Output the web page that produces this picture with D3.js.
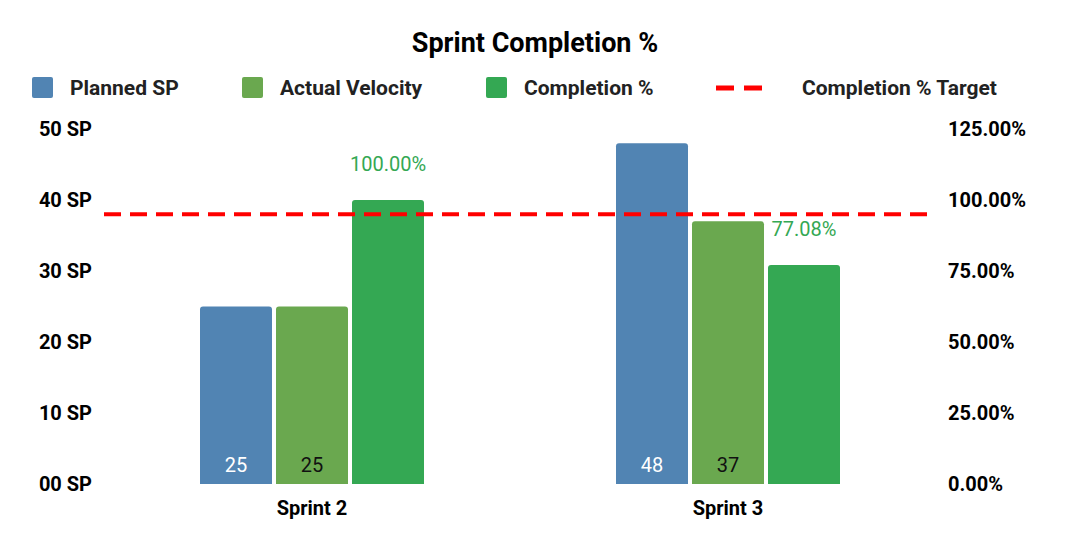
<!DOCTYPE html>
<html><head><meta charset="utf-8">
<script src="https://cdn.jsdelivr.net/npm/d3@7"></script>
<style>body{margin:0;background:#fff;font-family:Roboto,Arial,sans-serif}</style>
</head><body><svg id="c" width="1070" height="548"></svg>
<script>
const categories = ["Sprint 2", "Sprint 3"];
const plannedSP = [25, 48];
const actualVelocity = [25, 37];
const completionPct = [100.00, 77.08];
const targetPct = 95;
const leftTicks = [0, 10, 20, 30, 40, 50];
const rightTicks = [0, 25, 50, 75, 100, 125];
const seriesNames = ["Planned SP", "Actual Velocity", "Completion %", "Completion % Target"];
const colors = ["#5184b3", "#6aa84f", "#34a853", "#ff0000"];

const svg = d3.select("#c");
const L = 104, R = 936, T = 129, B = 484;
const x = d3.scaleBand().domain(categories).range([L, R]);
const yL = d3.scaleLinear().domain([0, 50]).range([B, T]);
const yR = d3.scaleLinear().domain([0, 125]).range([B, T]);
const bw = 72, gap = 4;

svg.append("text").attr("x", 535).attr("y", 52).attr("text-anchor", "middle")
  .attr("font-size", 27).attr("font-weight", "bold").text("Sprint Completion %");

// legend
const lg = [[32, 0], [242, 1], [486, 2], [716, 3]];
lg.forEach(([lx, i]) => {
  if (i < 3) svg.append("rect").attr("x", lx).attr("y", 77).attr("width", 21).attr("height", 21).attr("rx", 2).attr("fill", colors[i]);
  else svg.append("line").attr("x1", lx).attr("x2", lx + 52).attr("y1", 88).attr("y2", 88).attr("stroke", colors[3]).attr("stroke-width", 5).attr("stroke-dasharray", "18,10");
  svg.append("text").attr("x", lx + (i < 3 ? 38 : 86)).attr("y", 95).attr("font-size", 21).attr("font-weight", "bold").attr("fill", "#222").text(seriesNames[i]);
});

// axes
svg.selectAll(".lt").data(leftTicks).enter().append("text")
  .attr("x", 92).attr("y", d => yL(d) + 7).attr("text-anchor", "end")
  .attr("font-size", 20).attr("font-weight", "bold")
  .text(d => String(d).padStart(2, "0") + " SP");
svg.selectAll(".rt").data(rightTicks).enter().append("text")
  .attr("x", 948).attr("y", d => yR(d) + 7)
  .attr("font-size", 20).attr("font-weight", "bold")
  .text(d => d.toFixed(2) + "%");
svg.selectAll(".ct").data(categories).enter().append("text")
  .attr("x", d => x(d) + x.bandwidth() / 2).attr("y", 515).attr("text-anchor", "middle")
  .attr("font-size", 20).attr("font-weight", "bold").text(d => d);

categories.forEach((c, i) => {
  const cx = x(c) + x.bandwidth() / 2;
  const x0 = cx - (3 * bw + 2 * gap) / 2;
  const vals = [[yL(plannedSP[i]), plannedSP[i]], [yL(actualVelocity[i]), actualVelocity[i]], [yR(completionPct[i]), completionPct[i]]];
  vals.forEach(([yy, v], k) => {
    const bx = x0 + k * (bw + gap);
    svg.append("path").attr("fill", colors[k])
      .attr("d", `M${bx},${B}V${yy + 3}Q${bx},${yy} ${bx + 3},${yy}H${bx + bw - 3}Q${bx + bw},${yy} ${bx + bw},${yy + 3}V${B}Z`);
    if (k < 2) svg.append("text").attr("x", bx + bw / 2).attr("y", 472).attr("text-anchor", "middle")
      .attr("font-size", 20).attr("fill", k === 0 ? "#fff" : "#111").text(v);
    else svg.append("text").attr("x", bx + bw / 2).attr("y", yy - 29).attr("text-anchor", "middle")
      .attr("font-size", 20).attr("fill", colors[2]).text(v.toFixed(2) + "%");
  });
});

svg.append("line").attr("x1", L).attr("x2", R).attr("y1", yR(targetPct)).attr("y2", yR(targetPct))
  .attr("stroke", colors[3]).attr("stroke-width", 4).attr("stroke-dasharray", "17,9");
</script></body></html>
